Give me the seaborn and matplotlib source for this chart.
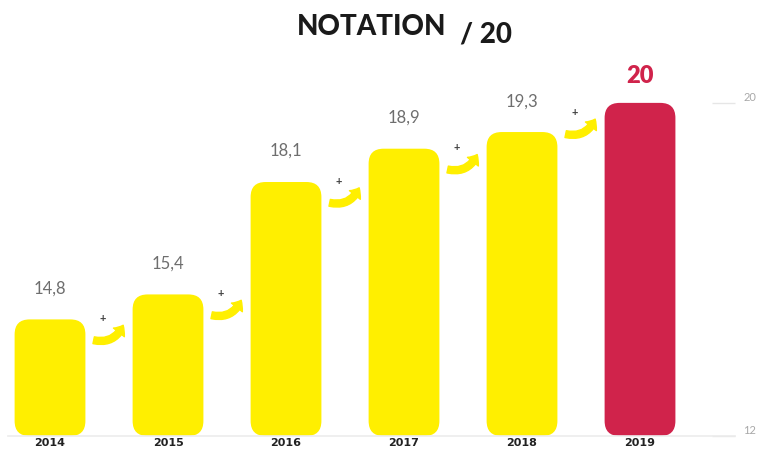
"""
Notation / 20 : yearly score, bars with rounded corners.
"""

import matplotlib
matplotlib.use('Agg')
import matplotlib.pyplot as plt
from matplotlib.patches import FancyBboxPatch, FancyArrowPatch
import seaborn as sns
import pandas as pd

# data
years = ['2014', '2015', '2016', '2017', '2018', '2019']
scores = [14.8, 15.4, 18.1, 18.9, 19.3, 20]
score_labels = ['14,8', '15,4', '18,1', '18,9', '19,3', '20']
y_ticks = [12, 20]

YELLOW = '#FFEF00'
RED = '#D0234B'
base = 12

sns.set_theme(style='white')
plt.rcParams['font.family'] = ['Lato', 'DejaVu Sans']

fig = plt.figure(figsize=(7.66, 4.55), dpi=100)
ax = fig.add_axes([8 / 766, 19 / 455, 727 / 766, 376 / 455])

df = pd.DataFrame({'year': years, 'score': scores})
colors = [YELLOW] * (len(years) - 1) + [RED]
sns.barplot(data=df, x='year', y='score', hue='year', palette=colors,
            width=0.6, legend=False, ax=ax)

ax.set_xlim(-0.356, 5.805)
ax.set_ylim(base, 21.03)

# swap the flat bars for rounded ones sitting on the baseline
px_x = 118.0
px_y = 41.6
for bar, val, col in zip(list(ax.patches), scores, colors):
    x0, w = bar.get_x(), bar.get_width()
    bar.remove()
    r = 15 / px_x
    ax.add_patch(FancyBboxPatch((x0, base), w, val - base,
                                boxstyle=f'round,pad=0,rounding_size={r}',
                                mutation_aspect=px_x / px_y,
                                facecolor=col, edgecolor='none', zorder=2))

# value labels
for i, (val, lab) in enumerate(zip(scores, score_labels)):
    if i == len(scores) - 1:
        ax.text(i, val + 0.38, lab, ha='center', va='bottom', fontsize=17,
                fontweight='heavy', color=RED)
    else:
        ax.text(i, val + 0.55, lab, ha='center', va='bottom', fontsize=12,
                fontweight='normal', color='#6e6e6e')

# little "+" arrows between bars
for i in range(len(scores) - 1):
    top = scores[i]
    if i == len(scores) - 2:
        top += 0.45
    arr = FancyArrowPatch((i + 0.37, top - 0.5), (i + 0.62, top - 0.14),
                          connectionstyle='arc3,rad=0.4',
                          arrowstyle='simple,head_length=6,head_width=10,tail_width=5',
                          color=YELLOW, shrinkA=0, shrinkB=0, zorder=3)
    ax.add_patch(arr)
    ax.text(i + 0.45, top + 0.02, '+', ha='center', va='center', fontsize=8,
            fontweight='bold', color='#444444')

# axes styling
sns.despine(ax=ax, left=True, right=True, top=True)
ax.spines['bottom'].set_color('#ececec')
ax.spines['bottom'].set_linewidth(1.2)
ax.set_xlabel('')
ax.set_ylabel('')
ax.set_yticks(y_ticks)
ax.yaxis.tick_right()
ax.tick_params(axis='y', right=True, left=False, direction='in', length=16.5,
               width=1, color='#e6e6e6', labelcolor='#a8a8a8', labelsize=8, pad=6)
for t in ax.get_yticklabels():
    t.set_va('bottom')
ax.tick_params(axis='x', bottom=False, length=0, labelsize=8, labelcolor='#222222', pad=1.5)
for t in ax.get_xticklabels():
    t.set_fontweight('bold')
    t.set_family(['DejaVu Sans'])

# title
fig.text(297 / 766, 1 - 35 / 455, 'NOTATION', ha='left', va='baseline',
         fontsize=20, fontweight='black', color='#1a1a1a')
fig.text(460 / 766, 1 - 43 / 455, '/ 20', ha='left', va='baseline',
         fontsize=20, fontweight='black', color='#1a1a1a')

fig.savefig('out.png', dpi=100, facecolor='white')
